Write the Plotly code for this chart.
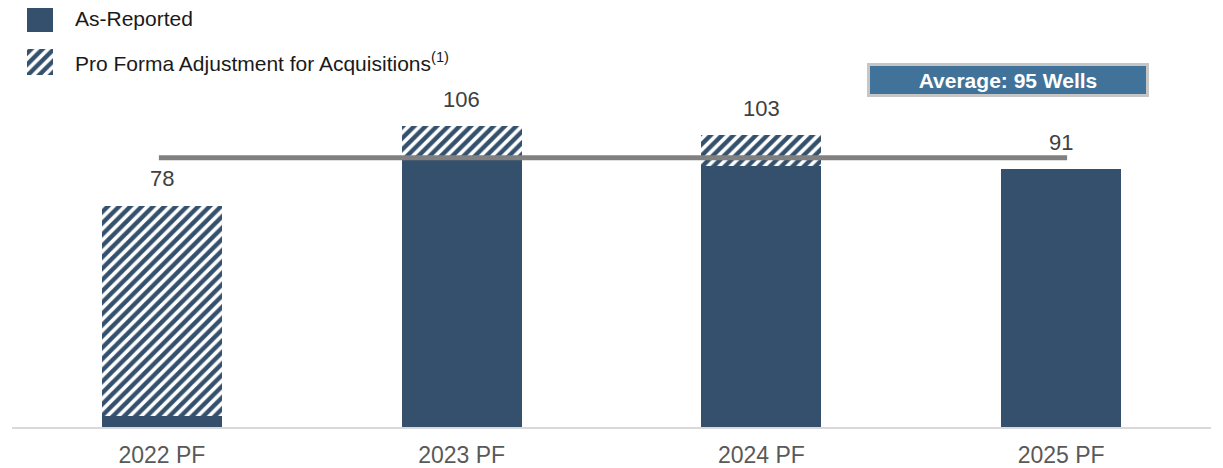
import plotly.graph_objects as go

categories = ["2022 PF", "2023 PF", "2024 PF", "2025 PF"]
as_reported = [4, 95, 92, 91]
pro_forma_adj = [74, 11, 11, 0]
totals = [a + p for a, p in zip(as_reported, pro_forma_adj)]
average = 95
legend_names = ["As-Reported", "Pro Forma Adjustment for Acquisitions<sup>(1)</sup>"]

DARK = "#34506c"
FONT = "Arial, Liberation Sans, sans-serif"
OFF = 8  # page body margin offset
W, H = 1223 - OFF, 468 - OFF
ML, MR, MT, MB = 12 - OFF, 12, 0, 41
PW, PH = W - ML - MR, H - MT - MB


def px_x(p):
    return (p - OFF - ML) / PW


def px_y(p):
    return 1 - (p - OFF - MT) / PH


pattern = dict(shape="/", fgcolor=DARK, bgcolor="white", size=8, solidity=0.55,
               fillmode="replace", fgopacity=1)

fig = go.Figure()
fig.add_trace(go.Bar(x=categories, y=as_reported, marker=dict(color=DARK, line=dict(width=0)),
                     name="As-Reported", showlegend=False))
fig.add_trace(go.Bar(x=categories, y=pro_forma_adj,
                     marker=dict(color="white", pattern=pattern, line=dict(width=0)),
                     name="Pro Forma", showlegend=False))

# legend swatches on auxiliary axes
fig.add_trace(go.Bar(y=[0], x=[1], orientation="h", width=0.61, xaxis="x2", yaxis="y2",
                     marker=dict(color=DARK, line=dict(width=0)), showlegend=False, hoverinfo="skip"))
fig.add_trace(go.Bar(y=[1], x=[1], orientation="h", width=0.61, xaxis="x2", yaxis="y2",
                     marker=dict(color="white", pattern=pattern, line=dict(width=0)), showlegend=False,
                     hoverinfo="skip"))

annotations = []
for c, t in zip(categories, totals):
    annotations.append(dict(x=c, y=t, xref="x", yref="y", text=str(t), showarrow=False,
                            yshift=27, yanchor="middle",
                            font=dict(family=FONT, size=22, color="#404040")))

for i, name in enumerate(legend_names):
    annotations.append(dict(x=px_x(73), y=px_y(19 + 42.7 * i), xref="paper", yref="paper",
                            text=name, showarrow=False, xanchor="left", yanchor="middle",
                            font=dict(family=FONT, size=21, color="#1a1a1a")))

annotations.append(dict(x=px_x(1008), y=px_y(79.5), xref="paper", yref="paper",
                        text=f"<b>Average: {average} Wells</b>", showarrow=False,
                        xanchor="center", yanchor="middle", width=276, height=28,
                        bgcolor="#41729a", bordercolor="#c6c6c6", borderwidth=3, borderpad=0,
                        font=dict(family=FONT, size=21, color="white")))

shapes = [
    dict(type="line", xref="x", yref="y", x0=-0.01, x1=3.02, y0=average, y1=average,
         line=dict(color="#808080", width=5), layer="above"),
]

fig.update_layout(
    width=W, height=H,
    margin=dict(l=ML, r=MR, t=MT, b=MB),
    barmode="stack", bargap=0.6,
    plot_bgcolor="white", paper_bgcolor="white",
    font=dict(family=FONT),
    xaxis=dict(type="category", range=[-0.5, 3.5], showgrid=False, zeroline=False,
               showline=True, linecolor="#d9d9d9", linewidth=2, ticks="",
               tickfont=dict(family=FONT, size=23, color="#595959"), ticklabelstandoff=6),
    yaxis=dict(range=[0, PH / 2.835], visible=False, showgrid=False, zeroline=False),
    xaxis2=dict(domain=[px_x(27), px_x(53)], range=[0, 1], visible=False, anchor="y2"),
    yaxis2=dict(domain=[px_y(84), px_y(OFF)], range=[1.522, -0.2575], visible=False, anchor="x2"),
    annotations=annotations,
    shapes=shapes,
    showlegend=False,
)

fig.write_html("out.html")
